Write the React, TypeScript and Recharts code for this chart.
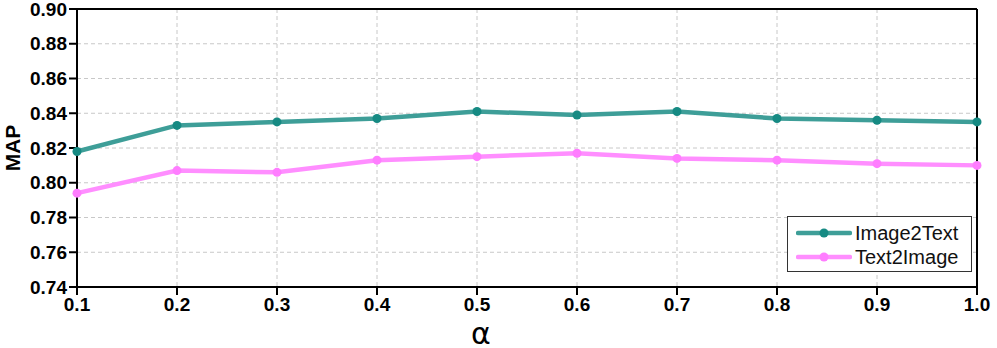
import React from 'react';
import { LineChart, Line, XAxis, YAxis, CartesianGrid, ReferenceLine } from 'recharts';

const alphas = [0.1, 0.2, 0.3, 0.4, 0.5, 0.6, 0.7, 0.8, 0.9, 1.0];
const image2Text = [0.818, 0.833, 0.835, 0.837, 0.841, 0.839, 0.841, 0.837, 0.836, 0.835];
const text2Image = [0.794, 0.807, 0.806, 0.813, 0.815, 0.817, 0.814, 0.813, 0.811, 0.81];
const yTicks = [0.74, 0.76, 0.78, 0.8, 0.82, 0.84, 0.86, 0.88, 0.9];

const series = [
  { key: 'Image2Text', line: '#3e9e98', dot: '#168a83' },
  { key: 'Text2Image', line: '#ff8eff', dot: '#ff7dff' },
];

const data = alphas.map((a, i) => ({ alpha: a, Image2Text: image2Text[i], Text2Image: text2Image[i] }));

const font = '"Liberation Sans", Arial, Helvetica, sans-serif';
const tickStyle = { fontFamily: font, fontSize: 19, fontWeight: 700, fill: '#000' };

const LegendBox = () => (
  <div
    style={{
      position: 'absolute',
      left: 787,
      top: 216,
      border: '1.5px solid #333',
      background: '#fff',
      width: 185,
      height: 56,
      boxSizing: 'border-box',
      padding: '4px 0 0 8px',
      fontFamily: font,
      fontSize: 20,
      lineHeight: '24px',
      color: '#111',
    }}
  >
    {series.map((s) => (
      <div key={s.key} style={{ display: 'flex', alignItems: 'center', height: 24 }}>
        <svg width={56} height={12} style={{ marginRight: 3 }}>
          <line x1={2} y1={6} x2={54} y2={6} stroke={s.line} strokeWidth={4.5} strokeLinecap="round" />
          <circle cx={28} cy={6} r={4.5} fill={s.dot} />
        </svg>
        <span>{s.key}</span>
      </div>
    ))}
  </div>
);

export default function App() {
  return (
    <div style={{ position: 'absolute', left: 0, top: 0, width: 997, height: 348, background: '#fff' }}>
      <LineChart width={997} height={348} data={data} margin={{ top: 9, right: 20, left: 0, bottom: 0 }}>
        <CartesianGrid stroke="#c8c8c8" strokeDasharray="4 3" />
        <XAxis
          dataKey="alpha"
          type="number"
          domain={[0.1, 1.0]}
          ticks={alphas}
          tickFormatter={(v: number) => v.toFixed(1)}
          height={61}
          stroke="#000"
          strokeWidth={2}
          tickSize={8}
          tick={tickStyle}
          tickMargin={3}
          label={{
            value: 'α',
            position: 'insideBottom',
            offset: 4,
            dx: -46,
            style: { fontFamily: '"DejaVu Sans", sans-serif', fontSize: 30, fill: '#000' },
          }}
        />
        <YAxis
          domain={[0.74, 0.9]}
          ticks={yTicks}
          interval={0}
          tickFormatter={(v: number) => v.toFixed(2)}
          width={77}
          stroke="#000"
          strokeWidth={2}
          tickSize={8}
          tick={tickStyle}
          tickMargin={2}
          label={{
            value: 'MAP',
            angle: -90,
            position: 'insideLeft',
            offset: 0,
            dx: 13,
            style: { fontFamily: font, fontSize: 21, fontWeight: 700, fill: '#000', textAnchor: 'middle' },
          }}
        />
        <ReferenceLine y={0.9} stroke="#000" strokeWidth={2} />
        <ReferenceLine x={1.0} stroke="#000" strokeWidth={2} />
        {series.map((s) => (
          <Line
            key={s.key}
            dataKey={s.key}
            stroke={s.line}
            strokeWidth={4.5}
            dot={{ r: 4.5, fill: s.dot, stroke: 'none' }}
            activeDot={false}
            isAnimationActive={false}
          />
        ))}
      </LineChart>
      <LegendBox />
    </div>
  );
}
